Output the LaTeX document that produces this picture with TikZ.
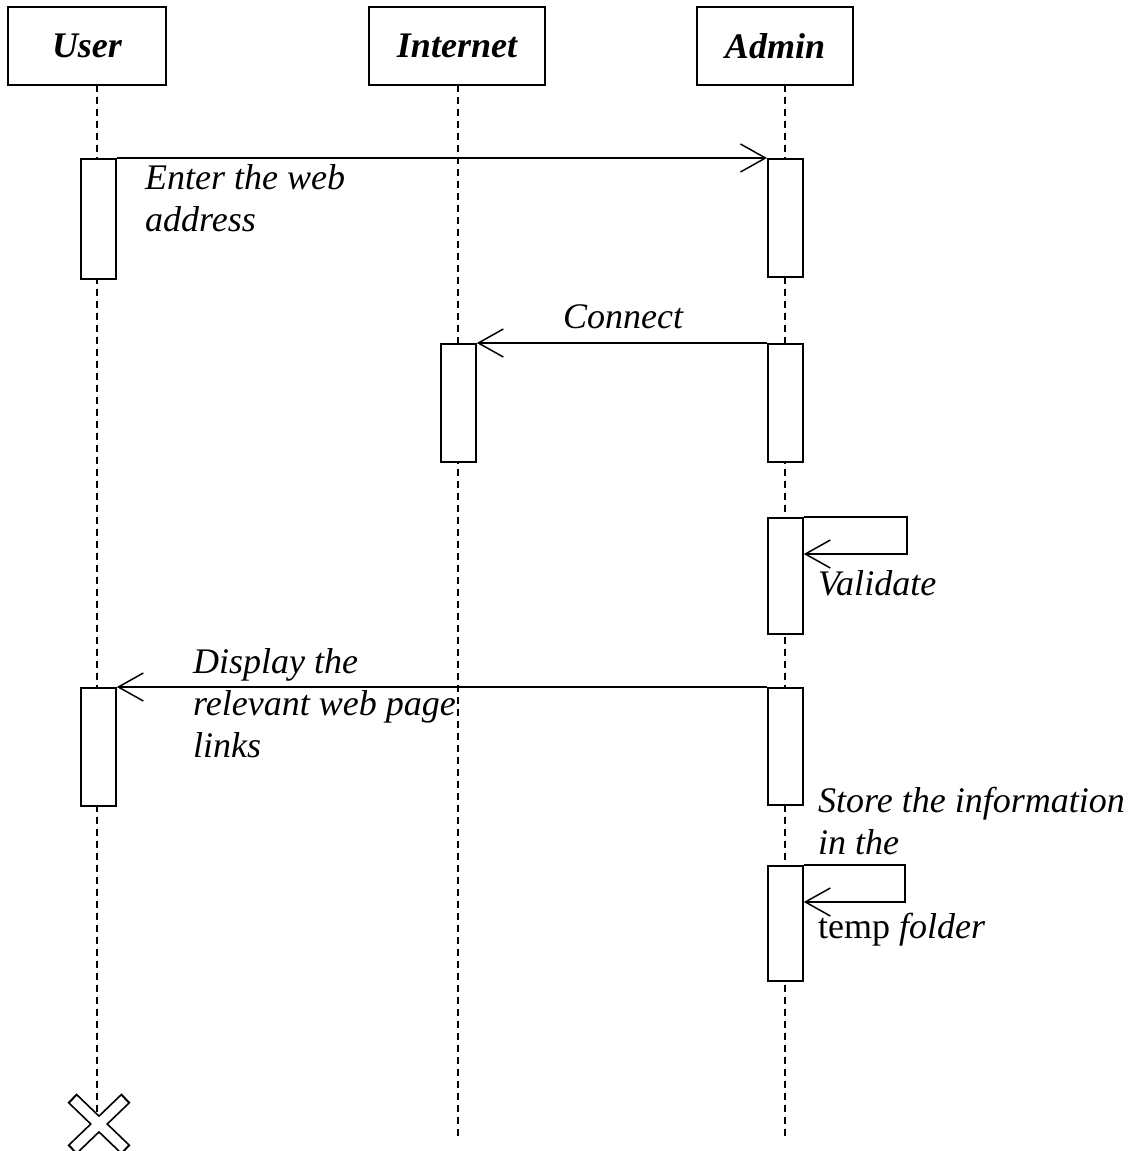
\documentclass[tikz,border=0pt]{standalone}
\usepackage{fontspec}
\setmainfont{Liberation Serif}
\usetikzlibrary{arrows.meta,calc}
\begin{document}
\begin{tikzpicture}[x=1pt,y=-1pt,
  head/.style={draw,line width=1.8pt,minimum height=78pt,inner sep=0pt,
    font=\fontsize{36}{42}\selectfont\bfseries\itshape},
  act/.style={draw,fill=white,line width=1.8pt,minimum width=35pt,inner sep=0pt,anchor=north west},
  life/.style={line width=1.4pt,dash pattern=on 7pt off 5pt},
  msg/.style={line width=1.5pt,-{Straight Barb[length=25pt,width=28pt,line width=1.5pt]}},
  lbl/.style={inner sep=0pt,anchor=base west,font=\fontsize{36}{42}\selectfont\itshape},
  xout/.style={line width=13pt,line cap=butt},
  xin/.style={white,line width=9.5pt,line cap=butt}]
\useasboundingbox (0,0) rectangle (1144,1151);
% headers
\node[head,minimum width=158pt] (hu) at (87,46) {User};
\node[head,minimum width=176pt] (hi) at (457,46) {Internet};
\node[head,minimum width=156pt] (ha) at (775,46) {Admin};
% lifeline anchors
\coordinate (us) at (97,85);
\coordinate (is) at (458,85);
\coordinate (as) at (785,85);
\coordinate (ue) at (97,1112);
\coordinate (ie) at (458,1140);
\coordinate (ae) at (785,1140);
\draw[life] (us) -- (ue);
\draw[life] (is) -- (ie);
\draw[life] (as) -- (ae);
% activations
\node[act,minimum height=120pt] (u1) at (80,158) {};
\node[act,minimum height=118pt] (a1) at (767,158) {};
\node[act,minimum height=118pt] (i1) at (440,343) {};
\node[act,minimum height=118pt] (a2) at (767,343) {};
\node[act,minimum height=116pt] (a3) at (767,517) {};
\node[act,minimum height=118pt] (u2) at (80,687) {};
\node[act,minimum height=117pt] (a4) at (767,687) {};
\node[act,minimum height=115pt] (a5) at (767,865) {};
% messages
\draw[msg] (u1.north east) -- (a1.north west);
\node[lbl] (t1a) at (145,189) {Enter the web};
\node[lbl] (t1b) at (145,231) {address};
\draw[msg] (a2.north west) -- (i1.north east);
\node[lbl] (t2) at (563,328) {Connect};
\draw[msg] (a3.north east) -- ++(103,0) -- ++(0,37) -- ([yshift=-37pt]a3.north east);
\node[lbl] (t3) at (818,595) {Validate};
\draw[msg] (a4.north west) -- (u2.north east);
\node[lbl] (t4a) at (193,673) {Display the};
\node[lbl] (t4b) at (193,715) {relevant web page};
\node[lbl] (t4c) at (193,757) {links};
\draw[msg] (a5.north east) -- ++(101,0) -- ++(0,37) -- ([yshift=-37pt]a5.north east);
\node[lbl] (t5a) at (818,812) {Store the information};
\node[lbl] (t5b) at (818,854) {in the};
\node[lbl] (t5c) at (818,938) {\upshape temp \itshape folder};
% destruction
\coordinate (xc) at (99,1124);
\draw[xout] ($(xc)+(-27,-26)$) -- ($(xc)+(27,26)$);
\draw[xout] ($(xc)+(-27,26)$) -- ($(xc)+(27,-26)$);
\draw[xin] ($(xc)+(-25.5,-24.5)$) -- ($(xc)+(25.5,24.5)$);
\draw[xin] ($(xc)+(-25.5,24.5)$) -- ($(xc)+(25.5,-24.5)$);
\end{tikzpicture}
\end{document}
